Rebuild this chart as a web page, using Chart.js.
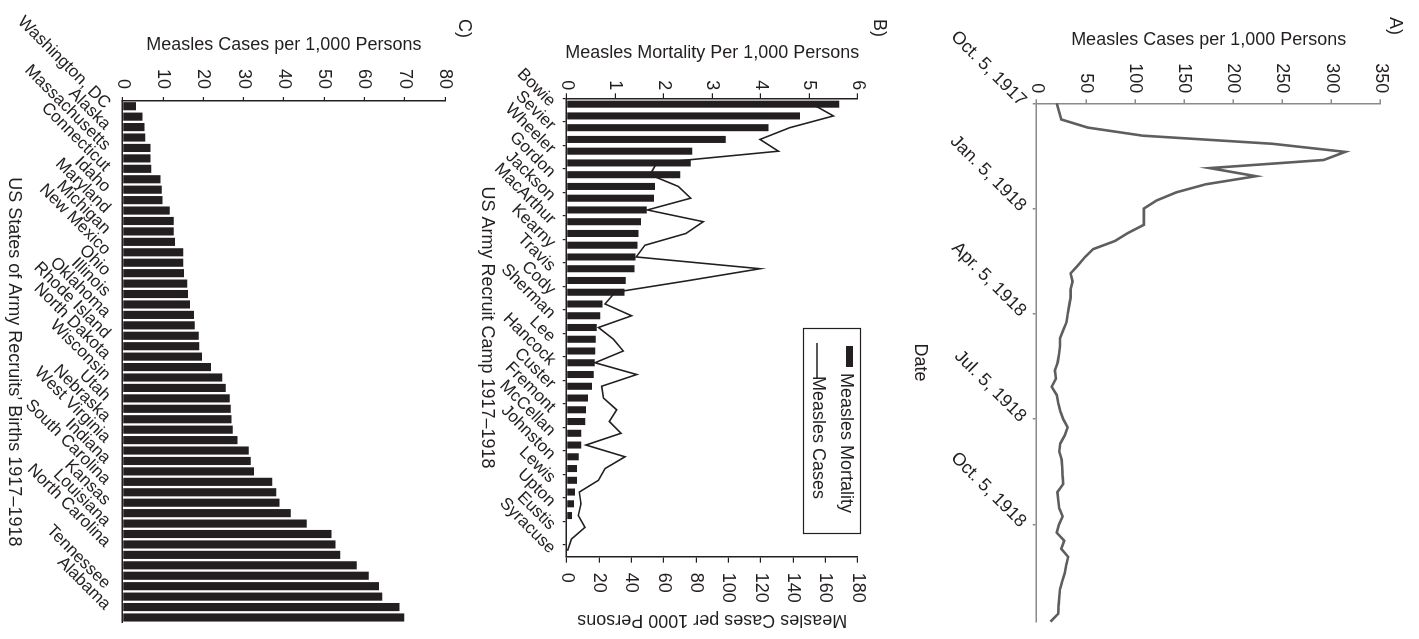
<!DOCTYPE html>
<html>
<head>
<meta charset="utf-8">
<script src="https://cdn.jsdelivr.net/npm/chart.js@4.4.1/dist/chart.umd.min.js"></script>
<style>
html,body{margin:0;padding:0;background:#fff;overflow:hidden;width:1419px;height:639px;}
#fig{position:absolute;left:0;top:0;width:639px;height:1419px;transform-origin:0 0;transform:translateX(1419px) rotate(90deg);background:#fff;}
#fig canvas{position:absolute;left:0;}
.tag{position:absolute;font:18px "Liberation Sans",Arial,sans-serif;line-height:20px;color:#231f20;}
</style>
</head>
<body>
<div id="fig">
  <canvas id="cA" width="639" height="515" style="top:0px"></canvas>
  <canvas id="cB" width="639" height="430" style="top:515px"></canvas>
  <canvas id="cC" width="639" height="474" style="top:945px"></canvas>
  <div class="tag" style="left:17px;top:13px">A)</div>
  <div class="tag" style="left:19px;top:529px">B)</div>
  <div class="tag" style="left:19px;top:944px">C)</div>
</div>
<script>
// ---------- Panel A: weekly measles cases per 1,000 persons ----------
const weekLabels = [
  '1917-10-05','1917-10-12','1917-10-19','1917-10-26','1917-11-02','1917-11-09','1917-11-16','1917-11-23','1917-11-30',
  '1917-12-07','1917-12-14','1917-12-21','1917-12-28','1918-01-04','1918-01-11','1918-01-18','1918-01-25',
  '1918-02-01','1918-02-08','1918-02-15','1918-02-22','1918-03-01','1918-03-08','1918-03-15','1918-03-22','1918-03-29',
  '1918-04-05','1918-04-12','1918-04-19','1918-04-26','1918-05-03','1918-05-10','1918-05-17','1918-05-24','1918-05-31',
  '1918-06-07','1918-06-14','1918-06-21','1918-06-28','1918-07-05','1918-07-12','1918-07-19','1918-07-26',
  '1918-08-02','1918-08-09','1918-08-16','1918-08-23','1918-08-30','1918-09-06','1918-09-13','1918-09-20','1918-09-27',
  '1918-10-04','1918-10-11','1918-10-18','1918-10-25','1918-11-01','1918-11-08','1918-11-15','1918-11-22','1918-11-29',
  '1918-12-06','1918-12-13','1918-12-20','1918-12-27'
];
const weeklyCases = [
  20.3, 22.7, 25, 52, 108, 240, 314, 292, 176, 223, 172, 142, 122, 109, 109, 109, 93, 79.5, 57.5, 49,
  42, 34.5, 36.5, 34.5, 34.5, 33, 31.5, 30.4, 27, 23.7, 23.7, 22.7, 21.3, 18.5, 19.6, 15.2, 20.3, 22, 24, 27,
  31.5, 28.5, 24, 23, 25.4, 26, 26.4, 27, 21, 22, 23, 26.4, 22.7, 20.3, 28, 25, 32, 30, 28.5, 26,
  23.7, 23, 22.3, 22, 14
];
const dateTickIndex = [0, 13, 26, 39, 52];
const dateTickText = ['Oct. 5, 1917', 'Jan. 5, 1918', 'Apr. 5, 1918', 'Jul. 5, 1918', 'Oct. 5, 1918'];

// ---------- Panel B: army recruit camps ----------
const campLabels = [
  'Bowie','','Sevier','','Wheeler','','Gordon','','Jackson','','MacArthur','','Kearny','','Travis','','Cody','',
  'Sherman','','Lee','','Hancock','','Custer','','Fremont','','McCellan','','Johnston','','Lewis','','Upton','',
  'Eustis','','Syracuse'
];
const campMortality = [
  5.62, 4.81, 4.16, 3.28, 2.59, 2.56, 2.34, 1.82, 1.80, 1.65, 1.53, 1.48, 1.46, 1.42, 1.40, 1.22, 1.19, 0.74, 0.69, 0.62,
  0.60, 0.59, 0.58, 0.56, 0.52, 0.44, 0.40, 0.38, 0.30, 0.30, 0.25, 0.21, 0.21, 0.17, 0.15, 0.11, 0, 0, 0
];
const campCases = [
  152, 165, 138, 119.6, 131, 55.7, 51.5, 69, 76.7, 49.9, 84.5, 73.8, 48.4, 43, 119.6, 75.8, 30, 23.7, 40.2, 19.6,
  28.9, 35, 17.5, 43.3, 21.6, 22.7, 30.9, 26.4, 33.6, 11.9, 36, 23.7, 19.6, 7.8, 8.8, 7.2, 11.3, 3, 0.5
];

// ---------- Panel C: states of recruits' births ----------
const stateLabels = [
  'Washington, DC','','Alaska','','Massachusetts','','Connecticut','','Idaho','','Maryland','','Michigan','',
  'New Mexico','','Ohio','','Illinois','','Oklahoma','','Rhode Island','','North Dakota','','Wisconsin','',
  'Utah','','Nebraska','','West Virginia','','Indiana','','South Carolina','','Kansas','','Louisiana','',
  'North Carolina','','','','Tennessee','','Alabama',''
];
const stateCases = [
  3.3, 4.9, 5.4, 5.6, 6.9, 6.9, 7.1, 9.4, 9.7, 9.9, 11.7, 12.7, 12.7, 13.0, 15.0, 15.0, 15.2, 16.0, 16.2, 16.7,
  17.7, 17.9, 18.9, 19.0, 19.7, 21.9, 24.7, 25.6, 26.6, 26.8, 27.0, 27.3, 28.5, 31.3, 31.8, 32.6, 37.1, 38.1, 38.9, 41.7,
  45.7, 51.8, 52.8, 54.0, 58.1, 61.1, 63.6, 64.4, 68.7, 69.9
];

const FONT = '"Liberation Sans", Arial, Helvetica, sans-serif';
const INK = '#231f20';
Chart.defaults.font.family = FONT;
Chart.defaults.font.size = 18;
Chart.defaults.color = INK;
Chart.defaults.animation = false;
Chart.defaults.responsive = false;
Chart.defaults.plugins.legend.display = false;
Chart.defaults.plugins.tooltip.enabled = false;

const everyOther = (c) => (c.index % 2 === 0 ? INK : 'rgba(0,0,0,0)');

// Panel A
const GRAY = '#8a8a8a';
new Chart(document.getElementById('cA'), {
  type: 'line',
  data: {
    labels: weekLabels,
    datasets: [{
      label: 'Measles Cases per 1,000 Persons',
      data: weeklyCases,
      borderColor: '#5e5e5e',
      borderWidth: 2.6,
      pointRadius: 0,
      tension: 0,
      fill: false
    }]
  },
  options: {
    layout: { padding: { top: 38.3, right: 17.3, left: 0, bottom: 0 } },
    scales: {
      x: {
        type: 'category',
        offset: false,
        grid: { drawOnChartArea: false, tickLength: 4, color: GRAY, lineWidth: 1.5 },
        border: { color: GRAY, width: 1.5 },
        afterBuildTicks: (s) => { s.ticks = s.ticks.filter(t => dateTickIndex.includes(t.value)); },
        ticks: {
          autoSkip: false, minRotation: 45, maxRotation: 45, padding: 2,
          callback: (v) => dateTickText[dateTickIndex.indexOf(v)]
        },
        title: { display: true, text: 'Date', padding: { top: 0, bottom: 5.2 } },
        afterFit: (s) => { s.height = 132.7; }
      },
      y: {
        min: 0, max: 350,
        ticks: { stepSize: 50, padding: 6 },
        grid: { drawOnChartArea: false, tickLength: 4, color: GRAY, lineWidth: 1.5 },
        border: { color: GRAY, width: 1.5 },
        title: { display: true, text: 'Measles Cases per 1,000 Persons', padding: { top: 29.2, bottom: 0 } },
        afterFit: (s) => { s.width = 103.3; }
      }
    }
  }
});

// Panel B legend (boxed, inside plot)
const campLegend = {
  id: 'campLegend',
  afterDraw(chart) {
    const ctx = chart.ctx;
    const ds = chart.data.datasets;
    ctx.save();
    ctx.strokeStyle = INK;
    ctx.lineWidth = 1.2;
    ctx.strokeRect(328.5, 43.5, 205, 57);
    ctx.fillStyle = INK;
    ctx.fillRect(346, 51, 21, 7);
    ctx.beginPath();
    ctx.moveTo(343, 87);
    ctx.lineTo(379, 87);
    ctx.lineWidth = 1.6;
    ctx.stroke();
    ctx.font = '18px ' + FONT;
    ctx.textAlign = 'left';
    ctx.textBaseline = 'middle';
    ctx.fillText(ds[0].label, 373, 58.5);
    ctx.fillText(ds[1].label, 376, 86.5);
    ctx.restore();
  }
};

new Chart(document.getElementById('cB'), {
  type: 'bar',
  data: {
    labels: campLabels,
    datasets: [
      {
        type: 'bar',
        label: 'Measles Mortality',
        data: campMortality,
        yAxisID: 'yM',
        backgroundColor: INK,
        barPercentage: 0.6,
        categoryPercentage: 1,
        order: 2
      },
      {
        type: 'line',
        label: 'Measles Cases',
        data: campCases,
        yAxisID: 'yC',
        borderColor: INK,
        borderWidth: 1.6,
        pointRadius: 0,
        tension: 0,
        fill: false,
        order: 1
      }
    ]
  },
  options: {
    layout: { padding: { top: 46.3, right: 0, left: 0, bottom: 0 } },
    scales: {
      x: {
        offset: true,
        grid: { drawOnChartArea: false, tickLength: 4, color: everyOther, lineWidth: 1.2 },
        border: { color: INK, width: 1.5 },
        ticks: { autoSkip: false, minRotation: 45, maxRotation: 45, padding: 3, font: { size: 17 } },
        title: { display: true, text: 'US Army Recruit Camp 1917–1918', padding: { top: 0, bottom: 2.2 } },
        afterFit: (s) => { s.height = 92.7; }
      },
      yM: {
        position: 'left',
        min: 0, max: 6,
        ticks: { stepSize: 1, padding: 3 },
        grid: { drawOnChartArea: false, tickLength: 5, color: INK, lineWidth: 1.2 },
        border: { color: INK, width: 1.5 },
        title: { display: true, text: 'Measles Mortality Per 1,000 Persons', padding: { top: 42.2, bottom: 0 } },
        afterFit: (s) => { s.width = 98.3; }
      },
      yC: {
        position: 'right',
        min: 0, max: 180,
        ticks: { stepSize: 20, padding: 10 },
        grid: { drawOnChartArea: false, tickLength: 6, color: INK, lineWidth: 1.2 },
        border: { color: INK, width: 1.5 },
        title: { display: true, text: 'Measles Cases per 1000 Persons', padding: { top: 8.2, bottom: 0 } },
        afterFit: (s) => { s.width = 82.3; }
      }
    }
  },
  plugins: [campLegend]
});

// Panel C
new Chart(document.getElementById('cC'), {
  type: 'bar',
  data: {
    labels: stateLabels,
    datasets: [{
      label: 'Measles Cases per 1,000 Persons',
      data: stateCases,
      backgroundColor: INK,
      barPercentage: 0.78,
      categoryPercentage: 1
    }]
  },
  options: {
    layout: { padding: { top: 29, right: 16.3, left: 0, bottom: 0 } },
    scales: {
      x: {
        offset: true,
        grid: { drawOnChartArea: false, tickLength: 4, color: 'rgba(0,0,0,0)' },
        border: { color: INK, width: 1.5 },
        ticks: { autoSkip: false, minRotation: 45, maxRotation: 45, padding: 4, font: { size: 17 } },
        title: { display: true, text: 'US States of Army Recruits’ Births 1917–1918', padding: { top: 0, bottom: 2.7 } },
        afterFit: (s) => { s.height = 122.7; }
      },
      y: {
        min: 0, max: 80,
        ticks: { stepSize: 10, padding: 8 },
        grid: { drawOnChartArea: false, tickLength: 4, color: INK, lineWidth: 1.2 },
        border: { color: INK, width: 1.5 },
        title: { display: true, text: 'Measles Cases per 1,000 Persons', padding: { top: 34.2, bottom: 0 } },
        afterFit: (s) => { s.width = 101; }
      }
    }
  }
});
</script>
</body>
</html>
